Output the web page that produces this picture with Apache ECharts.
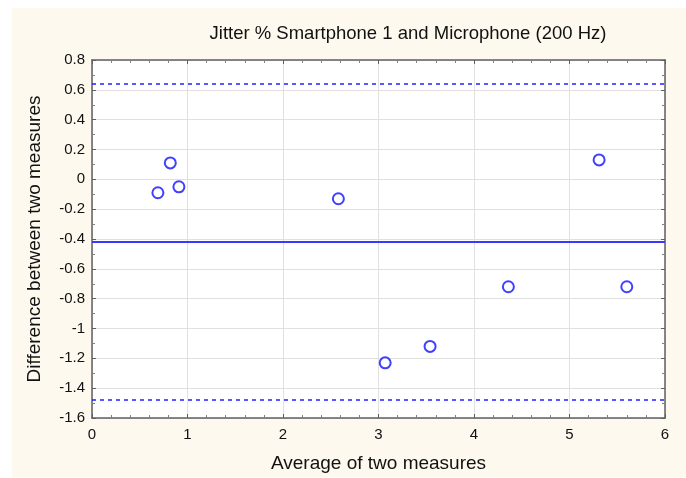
<!DOCTYPE html>
<html>
<head>
<meta charset="utf-8">
<script src="https://cdn.jsdelivr.net/npm/echarts@6/dist/echarts.min.js"></script>
<style>html,body{margin:0;padding:0;background:#fff}#c{width:686px;height:478px}</style>
</head>
<body>
<div id="c"></div>
<script>
var titleText = 'Jitter % Smartphone 1 and Microphone (200 Hz)';
var xLabel = 'Average of two measures';
var yLabel = 'Difference between two measures';
var avgValues = [0.69, 0.82, 0.91, 2.58, 3.07, 3.54, 4.36, 5.31, 5.60];
var diffValues = [-0.09, 0.11, -0.05, -0.13, -1.23, -1.12, -0.72, 0.13, -0.72];
var meanDiff = -0.42;
var upperLimit = 0.642;
var lowerLimit = -1.482;

var chart = echarts.init(document.getElementById('c'), null, {renderer: 'canvas'});
var font = 'Liberation Sans, Arial, sans-serif';
var axisLineStyle = {color: '#606060', width: 1.5};
var grid = {left: 92, right: 21, top: 60, bottom: 58};
chart.setOption({
  backgroundColor: '#ffffff',
  animation: false,
  graphic: [{
    type: 'rect', z: -10, silent: true,
    shape: {x: 12, y: 8, width: 674, height: 469},
    style: {fill: '#fef9ee'}
  }],
  title: {
    text: titleText, left: 403, top: 19, textAlign: 'center',
    textStyle: {fontFamily: font, fontSize: 18.5, fontWeight: 'normal', color: '#111'}
  },
  grid: Object.assign({backgroundColor: '#ffffff', show: true, borderWidth: 0}, grid),
  xAxis: [{
    type: 'value', min: 0, max: 6, interval: 1,
    name: xLabel, nameLocation: 'middle', nameGap: 36,
    nameTextStyle: {fontFamily: font, fontSize: 19, color: '#111'},
    axisLine: {show: true, onZero: false, lineStyle: axisLineStyle},
    axisTick: {show: true, inside: true, length: 4, lineStyle: {color: '#606060'}},
    minorTick: {show: true, splitNumber: 5, length: 3, lineStyle: {color: '#808080'}},
    axisLabel: {fontFamily: font, fontSize: 15, color: '#111', margin: 9},
    splitLine: {show: true, lineStyle: {color: '#e0e0e0', width: 1}},
    minorSplitLine: {show: false}
  }, {
    type: 'value', position: 'top', min: 0, max: 6, interval: 1,
    axisLine: {show: true, onZero: false, lineStyle: axisLineStyle},
    axisTick: {show: true, inside: true, length: 4, lineStyle: {color: '#606060'}},
    minorTick: {show: true, splitNumber: 5, length: 3, lineStyle: {color: '#808080'}},
    axisLabel: {show: false}, splitLine: {show: false}
  }],
  yAxis: [{
    type: 'value', min: -1.6, max: 0.8, interval: 0.2,
    name: yLabel, nameLocation: 'middle', nameGap: 48,
    nameTextStyle: {fontFamily: font, fontSize: 19, color: '#111'},
    axisLine: {show: true, onZero: false, lineStyle: axisLineStyle},
    axisTick: {show: true, inside: true, length: 4, lineStyle: {color: '#606060'}},
    minorTick: {show: true, splitNumber: 2, length: 3, lineStyle: {color: '#808080'}},
    axisLabel: {fontFamily: font, fontSize: 15, color: '#111', margin: 7,
      formatter: function (v) { return String(Math.round(v * 10) / 10); }},
    splitLine: {show: true, lineStyle: {color: '#e0e0e0', width: 1}}
  }, {
    type: 'value', position: 'right', min: -1.6, max: 0.8, interval: 0.2,
    axisLine: {show: true, onZero: false, lineStyle: axisLineStyle},
    axisTick: {show: true, inside: true, length: 4, lineStyle: {color: '#606060'}},
    minorTick: {show: true, splitNumber: 2, length: 3, lineStyle: {color: '#808080'}},
    axisLabel: {show: false}, splitLine: {show: false}
  }],
  series: [{
    type: 'scatter',
    data: avgValues.map(function (x, i) { return [x, diffValues[i]]; }),
    symbol: 'circle', symbolSize: 11,
    itemStyle: {color: 'transparent', borderColor: '#1010ff', borderWidth: 2},
    z: 5,
    markLine: {
      silent: true, symbol: 'none', label: {show: false},
      data: [
        {yAxis: meanDiff, lineStyle: {type: 'solid', color: '#3838ff', width: 2}},
        {yAxis: upperLimit, lineStyle: {type: [4, 4], color: '#2020ff', width: 1.5}},
        {yAxis: lowerLimit, lineStyle: {type: [4, 4], color: '#2020ff', width: 1.5}}
      ]
    }
  }]
});
</script>
</body>
</html>
